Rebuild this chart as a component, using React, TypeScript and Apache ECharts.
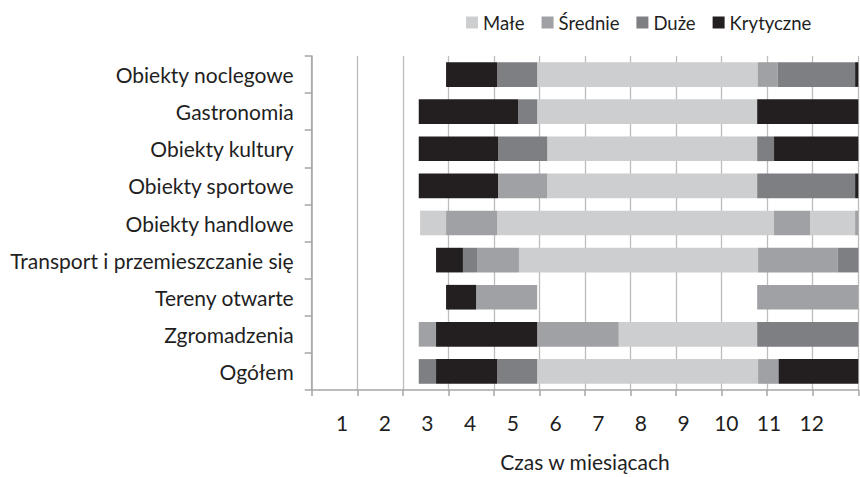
import React, { useEffect, useRef } from "react";
import * as echarts from "echarts";

// Categories, top to bottom
const categories = [
  "Obiekty noclegowe",
  "Gastronomia",
  "Obiekty kultury",
  "Obiekty sportowe",
  "Obiekty handlowe",
  "Transport i przemieszczanie się",
  "Tereny otwarte",
  "Zgromadzenia",
  "Ogółem",
];

const levelNames = ["Małe", "Średnie", "Duże", "Krytyczne"];
const levelColors = ["#CDCED0", "#A0A1A4", "#7E7F83", "#231F20"];

// Month tick labels
const monthLabels = [1, 2, 3, 4, 5, 6, 7, 8, 9, 10, 11, 12];

// Segment boundaries (axis units) and level of each segment (M=Małe, S=Średnie, D=Duże, K=Krytyczne, null = gap)
const noclegoweBounds = [2.95, 4.07, 4.95, 9.79, 10.23, 11.93, 12];
const noclegoweLevels = ["K", "D", "M", "S", "D", "K"];
const gastronomiaBounds = [2.35, 4.53, 4.95, 9.78, 12];
const gastronomiaLevels = ["K", "D", "M", "K"];
const kulturyBounds = [2.35, 4.09, 5.17, 9.78, 10.15, 12];
const kulturyLevels = ["K", "D", "M", "D", "K"];
const sportoweBounds = [2.35, 4.09, 5.17, 9.78, 11.93, 12];
const sportoweLevels = ["K", "S", "M", "D", "K"];
const handloweBounds = [2.38, 2.95, 4.07, 10.15, 10.94, 11.93, 12];
const handloweLevels = ["M", "S", "M", "S", "M", "S"];
const transportBounds = [2.73, 3.32, 3.63, 4.55, 9.8, 11.55, 12];
const transportLevels = ["K", "D", "S", "M", "S", "D"];
const terenyBounds = [2.95, 3.61, 4.95, 9.78, 12];
const terenyLevels = ["K", "S", null, "S"];
const zgromadzeniaBounds = [2.35, 2.73, 4.95, 6.74, 9.78, 12];
const zgromadzeniaLevels = ["S", "K", "S", "M", "D"];
const ogolemBounds = [2.35, 2.73, 4.07, 4.95, 9.8, 10.25, 12];
const ogolemLevels = ["D", "K", "D", "M", "S", "K"];

const rows: [number[], (string | null)[]][] = [
  [noclegoweBounds, noclegoweLevels],
  [gastronomiaBounds, gastronomiaLevels],
  [kulturyBounds, kulturyLevels],
  [sportoweBounds, sportoweLevels],
  [handloweBounds, handloweLevels],
  [transportBounds, transportLevels],
  [terenyBounds, terenyLevels],
  [zgromadzeniaBounds, zgromadzeniaLevels],
  [ogolemBounds, ogolemLevels],
];

const levelCodes = ["M", "S", "D", "K"];

function buildSeriesData(code: string) {
  const out: number[][] = [];
  rows.forEach(([bounds, levels], rowIdx) => {
    levels.forEach((lv, i) => {
      if (lv === code) out.push([bounds[i], bounds[i + 1], rowIdx]);
    });
  });
  return out;
}

const FONT = "Lato, 'Open Sans', sans-serif";
const TEXT_COLOR = "#1f1f1f";

export default function App() {
  const ref = useRef<HTMLDivElement>(null);
  useEffect(() => {
    if (!ref.current) return;
    const chart = echarts.init(ref.current, null, { renderer: "svg" });
    const renderItem = (params: any, api: any) => {
      const s = api.coord([api.value(0), api.value(2)]);
      const e = api.coord([api.value(1), api.value(2)]);
      const h = api.size([0, 1])[1] * 0.665;
      return {
        type: "rect",
        shape: { x: s[0], y: s[1] - h / 2, width: e[0] - s[0], height: h },
        style: api.style(),
      };
    };
    chart.setOption({
      animation: false,
      textStyle: { fontFamily: FONT },
      legend: {
        left: 461,
        top: 8,
        icon: "rect",
        itemWidth: 12,
        itemHeight: 12,
        itemGap: 17,
        data: levelNames,
        textStyle: { fontSize: 18.5, color: TEXT_COLOR, fontFamily: FONT },
      },
      grid: { left: 311.7, right: 1.7, top: 56, bottom: 82.7, containLabel: false },
      xAxis: [
        {
          type: "value",
          min: 0,
          max: 12,
          interval: 1,
          name: "Czas w miesiącach",
          nameLocation: "middle",
          nameGap: 61,
          nameTextStyle: { fontSize: 21, color: TEXT_COLOR, fontFamily: FONT },
          axisLine: { show: true, lineStyle: { color: "#A6A6A6", width: 1.5 } },
          axisTick: { show: true, length: 6, lineStyle: { color: "#A6A6A6", width: 1.5 } },
          axisLabel: { show: false },
          splitLine: { show: true, lineStyle: { color: "#BDBDBD", width: 1.3 } },
        },
        {
          type: "value",
          position: "bottom",
          min: 0.29,
          max: 13.09,
          axisLine: { show: false },
          axisTick: { show: false },
          splitLine: { show: false },
          axisLabel: {
            show: true,
            customValues: monthLabels,
            margin: 22,
            fontSize: 21,
            color: TEXT_COLOR,
            fontFamily: FONT,
          },
        },
      ],
      yAxis: {
        type: "category",
        inverse: true,
        data: categories,
        axisLine: { show: true, lineStyle: { color: "#A6A6A6", width: 1.5 } },
        axisTick: { show: true, length: 7, lineStyle: { color: "#A6A6A6", width: 1.5 } },
        axisLabel: { margin: 18, fontSize: 21, color: TEXT_COLOR, fontFamily: FONT },
        splitLine: { show: false },
      },
      series: levelCodes.map((code, i) => ({
        type: "custom",
        name: levelNames[i],
        renderItem,
        xAxisIndex: 0,
        yAxisIndex: 0,
        encode: { x: [0, 1], y: 2 },
        itemStyle: { color: levelColors[i] },
        data: buildSeriesData(code),
      })),
    });
    return () => chart.dispose();
  }, []);
  return (
    <div
      ref={ref}
      style={{ position: "fixed", left: 0, top: 0, width: 860, height: 477, background: "#fff" }}
    />
  );
}
